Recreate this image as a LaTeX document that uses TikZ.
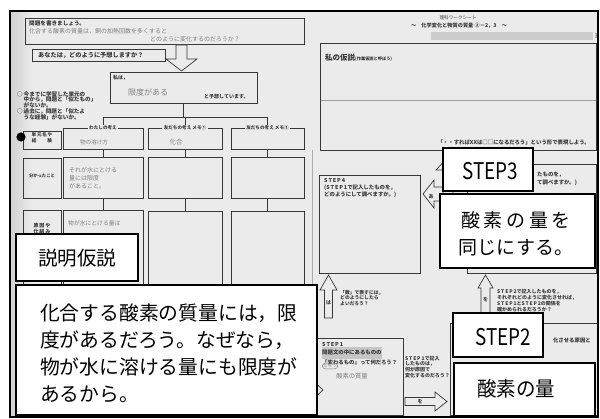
\documentclass[tikz,border=0pt]{standalone}
\usepackage{fontspec}
\usepackage{graphicx}
\setmainfont{Noto Sans CJK JP}
\usetikzlibrary{fit}
\definecolor{paper}{gray}{0.92}
\definecolor{ink}{gray}{0.22}
\definecolor{handc}{gray}{0.5}
\newcommand\fs[2]{\fontsize{#1}{#2}\selectfont}
\tikzset{
  wb/.style={draw=ink, line width=0.7pt, inner sep=0pt},
  ln/.style={draw=ink, line width=0.9pt},
  hollow/.style={draw=ink, line width=0.7pt, fill=paper},
  tx/.style={text=ink, inner sep=0pt, align=left, font=\bfseries\fs{4.8}{6}},
  hand/.style={text=handc, inner sep=0pt, align=left, font=\fs{6.5}{8}},
  legend/.style={text=ink, fill=paper, inner xsep=1.5pt, inner ysep=0.5pt, font=\bfseries\fs{4.6}{5}},
  ov/.style={draw=black, line width=1.2pt, fill=white, inner sep=0pt},
}
\begin{document}
\begin{tikzpicture}[x=1pt,y=-1pt]
\useasboundingbox (0,0) rectangle (600,419);
\fill[white] (0,0) rectangle (600,419);
\fill[paper] (10,11) rectangle (598,417);
\shade[left color=gray!36, right color=paper] (11,12) rectangle (32,416);
\draw[gray!65, line width=0.4pt] (312,150) -- (312,416);
\draw[gray!75, line width=0.4pt] (320,100) -- (596,100);

% ---------------- left sheet ----------------
\node[wb, fit={(25,18) (304,44)}] (prob) {};
\node[tx, anchor=north west, font=\bfseries\fs{5.6}{6}] (probt) at (29,20) {問題を書きましょう。};
\node[hand, anchor=west, font=\fs{6}{7}] (probh1) at (29,31) {化合する酸素の質量は，銅の加熱回数を多くすると};
\node[hand, anchor=west, font=\fs{6}{7}] (probh2) at (150,39) {どのように変化するのだろうか？};

\node[wb, fit={(32,49) (165,61)}] (pred) {};
\node[tx, anchor=west, font=\bfseries\fs{6.2}{7}] (predt) at (38,55) {あなたは，どのように予想しますか？};

\draw[hollow] (176,45) -- (187,45) -- (187,59) -- (197,59) -- (181.5,71) -- (166,59) -- (176,59) -- cycle;

\node[wb, fit={(110,72) (257,103)}] (yoso) {};
\node[tx, anchor=north west, font=\bfseries\fs{5}{6}] (yosot1) at (113,75) {私は，};
\node[hand, anchor=west, font=\fs{8}{9}] (yosoh) at (128,92) {限度がある};
\node[tx, anchor=west, font=\bfseries\fs{5}{6}] (yosot2) at (204,97) {と予想しています。};

\node[tx, anchor=north west, font=\bfseries\fs{5.6}{5.9}] (note) at (17,91)
  {○\,今までに学習した単元の\\\phantom{○}\,中から，問題と「似たもの」\\\phantom{○}\,がないか。\\○\,過去に，問題と「似たよ\\\phantom{○}\,うな経験」がないか。};

% column header boxes
\node[wb, fit={(63,128) (143,149)}] (c1a) {};
\node[wb, fit={(148,128) (222,149)}] (c2a) {};
\node[wb, fit={(231,128) (304,149)}] (c3a) {};
\node[legend] (c1l) at (c1a.north) {わたしの考え};
\node[legend] (c2l) at (c2a.north) {友だちの考え メモ①};
\node[legend] (c3l) at (c3a.north) {友だちの考え メモ②};
\coordinate (tj) at (yoso.south |- 0,117);
\draw[ln] (yoso.south) -- (tj);
\draw[ln] (c1a.north |- tj) -- (c3a.north |- tj);
\draw[ln] (c1a.north |- tj) -- (c1l.north);
\draw[ln] (c2a.north |- tj) -- (c2l.north);
\draw[ln] (c3a.north |- tj) -- (c3l.north);
\node[hand, font=\fs{5.6}{7}] (c1ah) at (94,142) {物の溶け方};
\node[hand, font=\fs{6.5}{7}] (c2ah) at (176,142) {化合};

\node[wb, fit={(63,157) (143,198)}] (c1b) {};
\node[wb, fit={(148,157) (222,198)}] (c2b) {};
\node[wb, fit={(231,157) (304,198)}] (c3b) {};
\node[hand, anchor=north west, font=\fs{6}{8}] (c1bh) at (69,167) {それが水にとける\\量には限度\\があること。};

\node[wb, fit={(63,210) (143,300)}] (c1c) {};
\node[wb, fit={(148,211) (222,300)}] (c2c) {};
\node[wb, fit={(231,211) (304,300)}] (c3c) {};
\node[hand, anchor=north west, font=\fs{5.8}{8}] (c1ch) at (68,220) {物が水にとける量は};

\foreach \a/\b in {c1a/c1b, c2a/c2b, c3a/c3b, c1b/c1c, c2b/c2c, c3b/c3c}
  \draw[ln] (\a.south) -- (\b.north);

% row labels
\node[wb, fit={(23,131) (61,149)}, font=\bfseries\fs{4.6}{6}, text=ink, align=center] (r1) {単\,元\,名\,や\\経\hspace{11pt}験};
\node[wb, fit={(23,158) (61,198)}, font=\bfseries\fs{4.3}{5}, text=ink] (r2) {分かったこと};
\node[wb, fit={(23,210) (61,300)}] (r3) {};
\node[tx, align=center, font=\bfseries\fs{5}{6}] (r3t) at (42,229) {原\,因\,や\\仕\,組\,み};
\fill[black] (21,137) circle (4.6);

% hidden arrow into STEP1
\draw[hollow] (280,384) -- (310,384) -- (310,378) -- (323,390) -- (310,402) -- (310,396) -- (280,396) -- cycle;

% ---------------- right sheet ----------------
\node[tx, font=\fs{4.6}{5}] (title) at (458,18) {理科ワークシート};
\node[tx, font=\bfseries\fs{5.2}{6}] (subtitle) at (459,26) {～\quad 化学変化と物質の質量\ ②－2，3\quad ～};
\fill[gray!40] (431,32) rectangle (593,40);
\node[tx] (brk) at (596,36) {]};

\node[wb, fit={(320,43) (596,150)}] (kasetsu) {};
\node[tx, anchor=west] (kasetsut) at (325,58) {{\fs{7.5}{8}私の仮説}{\fs{4.2}{5}(作業仮説と呼ぼう)}};
\node[tx, anchor=east, font=\bfseries\fs{5.4}{6}] (kasetsub) at (590,142) {「・・すればXXは□□になるだろう」という形で表現しよう。};

\node[wb, fit={(319,175) (420,273)}] (st4) {};
\node[tx, anchor=north west, font=\bfseries\fs{5.4}{7}] (st4t) at (324,178) {S\,T\,E\,P\,4\\(S\,T\,E\,P\,1で記入したものを，\\どのようにして調べますか。)};

\draw[hollow] (450,187) -- (434,187) -- (434,180) -- (423,194) -- (434,208) -- (434,201) -- (450,201) -- cycle;
\node[tx, font=\bfseries\fs{5}{5}] (ara) at (431,197) {あ};

\draw[hollow] (443,200) -- (443,170) -- (436,170) -- (448,157) -- (460,170) -- (453,170) -- (453,200) -- cycle;

\node[wb, fit={(467,164) (596,273)}] (st3) {};
\node[tx, anchor=west, font=\bfseries\fs{5.4}{6}] (st3t1) at (537,175) {たものを，};
\node[tx, anchor=west, font=\bfseries\fs{5.4}{6}] (st3t2) at (537,183) {て調べますか。)};

\draw[hollow] (324.5,318) -- (324.5,290) -- (320,290) -- (328.5,275) -- (337,290) -- (332.5,290) -- (332.5,318) -- cycle;
\node[tx, font=\bfseries\fs{5}{5}] (ha) at (328.5,303) {は};
\node[tx, anchor=north west, font=\bfseries\fs{4.8}{5.6}] (hat) at (340,290) {「数」で表すには，\\どのようにしたら\\よいだろう？};

\draw[hollow] (481,318) -- (481,288) -- (478,288) -- (485.5,275) -- (493,288) -- (490,288) -- (490,318) -- cycle;
\node[tx, font=\bfseries\fs{5}{5}] (wo1) at (485.5,300) {を};
\node[tx, anchor=north west, font=\bfseries\fs{5}{6}] (wot) at (497,289) {S\,T\,E\,P\,2で記入したものを，\\それぞれどのように変化させれば，\\S\,T\,E\,P\,1とS\,T\,E\,P\,2の関係を\\確かめられるだろうか？};

\node[wb, fit={(300,338) (403,415)}] (st1) {};
\node[tx, anchor=north west, font=\bfseries\fs{5.4}{6.5}] (st1t) at (322,342) {S\,T\,E\,P\,1\\\colorbox{gray!45}{\hspace{-3pt}問題文の中にあるものの\hspace{-3pt}}\\「変わるもの」って何だろう？};
\node[hand, font=\fs{4.5}{5}, draw=handc, rounded corners=3pt, inner sep=1pt] (st1d) at (330,366) {だろう};
\node[hand, font=\fs{6.3}{7}] (st1h) at (352,376) {酸素の質量};

\node[tx, anchor=north west, font=\bfseries\fs{5}{5.6}] (mid) at (405,356) {S\,T\,E\,P\,1で記入\\したものは，\\何が原因で\\変化するのだろう？};
\draw[hollow] (405,397.5) -- (435,397.5) -- (435,392) -- (447,401.5) -- (435,411) -- (435,405.5) -- (405,405.5) -- cycle;
\node[tx, font=\bfseries\fs{5}{5}] (wo2) at (420,401.5) {を};

\node[wb, fit={(450,323) (597,415)}] (st2) {};
\node[tx, anchor=east, font=\bfseries\fs{5.4}{7}] (st2t) at (591,340) {化させる原因と};

% ---------------- overlays ----------------
\node[ov, fit={(16,234) (138,281)}] (setsumei) {};
\node[font=\fs{19.5}{20}, inner sep=0pt] (setsumeit) at (77,258) {説明仮説};

\node[ov, fit={(16,285) (317,415)}] (honbun) {};
\node[anchor=north west, font=\fs{19.8}{26.8}, align=left, inner sep=0pt] (honbunt) at (40,304)
  {化合する酸素の質量には，限\\度があるだろう。なぜなら，\\物が水に溶ける量にも限度が\\あるから。};

\node[ov, fit={(443,148) (533,191)}] (s3box) {};
\node[font=\fs{23}{23}, inner sep=0pt] (s3txt) at (490,171) {\scalebox{0.82}[1]{STEP3}};

\node[ov, fit={(440,194) (595,268)}] (s3abox) {};
\node[font=\fs{19}{27}, align=center, inner sep=0pt] (s3atxt) at (516,234)
  {\makebox[110pt][s]{酸\hfill 素\hfill の\hfill 量\hfill を}\\同じにする。};

\node[ov, fit={(453,313) (543,357)}] (s2box) {};
\node[font=\fs{23}{23}, inner sep=0pt] (s2txt) at (503,337) {\scalebox{0.82}[1]{STEP2}};

\node[ov, fit={(454,363) (595,416)}] (s2abox) {};
\node[font=\fs{20.5}{21}, inner sep=0pt] (s2atxt) at (516,389) {\scalebox{0.95}[1]{酸素の量}};

\draw[line width=2pt] (10,11) rectangle (598,417);
\end{tikzpicture}
\end{document}
